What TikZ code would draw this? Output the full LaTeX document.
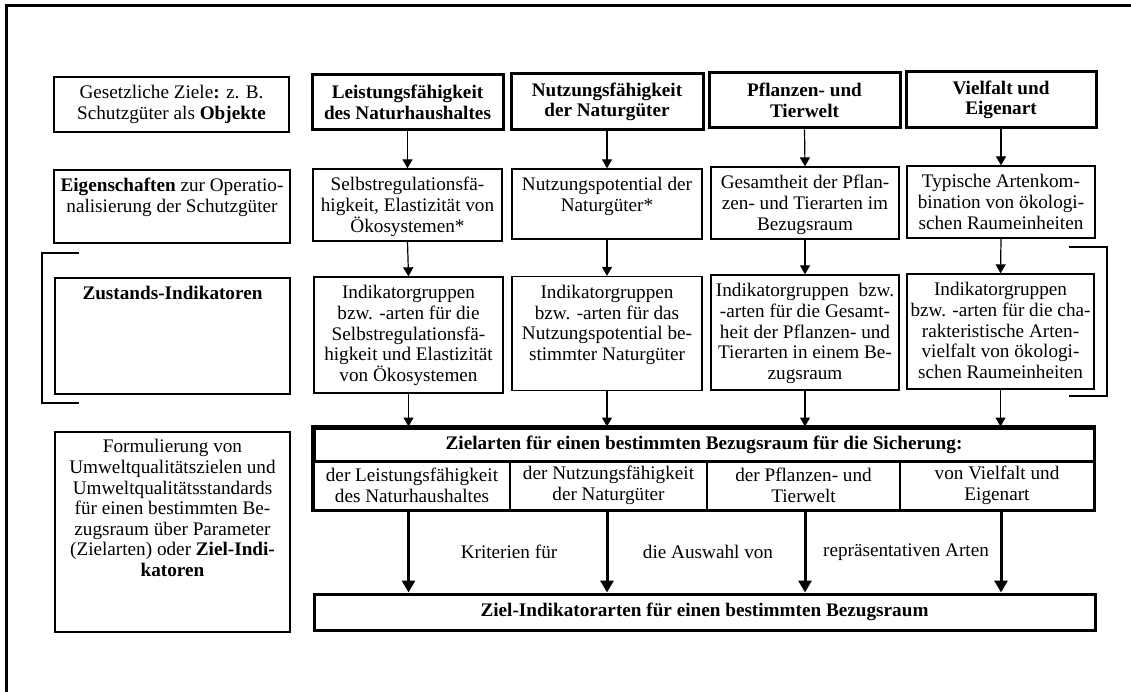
\documentclass[tikz,border=0pt]{standalone}
\usepackage{fontspec}
\setmainfont{Liberation Serif}
\usetikzlibrary{arrows.meta}

\newcommand{\basefont}{\fontsize{19.2}{20.6}\selectfont}
\tikzset{
  thinbox/.style={draw, line width=1.3pt, inner sep=0pt, align=center},
  thickbox/.style={draw, line width=3pt, inner sep=0pt, align=center, font=\basefont\bfseries},
  subbox/.style={draw, line width=1.8pt, minimum height=49pt, inner sep=0pt, align=center},
  down/.style={-{Triangle[length=9pt,width=10pt]}, line width=1.2pt},
  bigdown/.style={-{Triangle[length=12pt,width=13pt]}, line width=3pt},
  bracket/.style={line width=2.8pt},
}
% box with text set from the top
\newcommand{\topcell}[4][7.5pt]{\parbox[c][#3][t]{#2}{\centering\vspace*{#1}\strut#4}}

\begin{document}
\begin{tikzpicture}[x=1pt, y=-1pt, font=\basefont]

    \useasboundingbox (0,0) rectangle (1131,692);
    \draw[line width=3.5pt] (6.5,692) -- (6.5,5.3) -- (1131,5.3);

    % row 1: objects
    \node[thinbox, minimum width=235pt, minimum height=55pt] (goal) at (171.5,104.5) {Gesetzliche Ziele\textbf{:} z. B.\\ Schutzgüter als \textbf{Objekte}};
    \node[thickbox, minimum width=191pt, minimum height=55pt] (lei) at (407.5,102.5) {Leistungsfähigkeit\\ des Naturhaushaltes};
    \node[thickbox, minimum width=192pt, minimum height=56pt] (nut) at (607,102) {Nutzungsfähigkeit\\ der Naturgüter};
    \node[thickbox, minimum width=191pt, minimum height=55pt] (pfl) at (804.5,100.5) {Pflanzen- und\\ Tierwelt};
    \node[thickbox, minimum width=190pt, minimum height=56pt] (vie) at (1001,100) {Vielfalt und\\ Eigenart};

    % row 2: properties
    \node[thinbox] (eig) at (172,206.5) {\topcell{236pt}{73pt}{\textbf{Eigenschaften} zur Operatio-\\ nalisierung der Schutzgüter}};
    \node[thinbox] (sel) at (407.5,205) {\topcell{189pt}{72pt}{Selbstregulationsfä-\\ higkeit, Elastizität von\\ Ökosystemen*}};
    \node[thinbox] (pot) at (607,204) {\topcell{190pt}{70pt}{Nutzungspotential der\\ Naturgüter*}};
    \node[thinbox] (ges) at (805,203) {\topcell{188pt}{72pt}{Gesamtheit der Pflan-\\ zen- und Tierarten im\\ Bezugsraum}};
    \node[thinbox] (typ) at (1001,202) {\topcell{188pt}{72pt}{Typische Artenkom-\\ bination von ökologi-\\ schen Raumeinheiten}};

    % row 3: state indicators
    \node[thinbox] (zus) at (172.5,336) {\topcell{235pt}{116pt}{\textbf{Zustands-Indikatoren}}};
    \node[thinbox] (ind1) at (408.5,335) {\topcell{189pt}{116pt}{Indikatorgruppen\\ bzw. -arten für die\\ Selbstregulationsfä-\\ higkeit und Elastizität\\ von Ökosystemen}};
    \node[thinbox] (ind2) at (607,333.5) {\topcell{190pt}{114pt}{Indikatorgruppen\\ bzw. -arten für das\\ Nutzungspotential be-\\ stimmter Naturgüter}};
    \node[thinbox] (ind3) at (805,332.5) {\topcell{188pt}{115pt}{Indikatorgruppen\ \ bzw.\\ -arten für die Gesamt-\\ heit der Pflanzen- und\\ Tierarten in einem Be-\\ zugsraum}};
    \node[thinbox] (ind4) at (1000.5,331.5) {\topcell{187pt}{115pt}{Indikatorgruppen\\ bzw. -arten für die cha-\\ rakteristische Arten-\\ vielfalt von ökologi-\\ schen Raumeinheiten}};

    \draw[bracket] (79,253) -- (42,253) -- (42,403) -- (79,403);
    \draw[bracket] (1069,247) -- (1107,247) -- (1107,396) -- (1069,396);

    % row 4: target species
    \node[thinbox] (form) at (172.5,532) {\topcell[6.5pt]{235pt}{200pt}{Formulierung von\\ Umweltqualitätszielen und\\ Umweltqualitätsstandards\\ für einen bestimmten Be-\\ zugsraum über Parameter\\ (Zielarten) oder \textbf{Ziel-Indi-}\\ \textbf{katoren}}};
    \node[thickbox, minimum width=780pt, minimum height=33pt] (zhead) at (704,444.5) {Zielarten für einen bestimmten Bezugsraum für die Sicherung:};
    \node[subbox, minimum width=196pt] (zlei) at (412,485.5) {der Leistungsfähigkeit\\ des Naturhaushaltes};
    \node[subbox, minimum width=197pt] (znut) at (608.5,485.5) {der Nutzungsfähigkeit\\ der Naturgüter};
    \node[subbox, minimum width=193pt] (zpfl) at (803.5,485.5) {der Pflanzen- und\\ Tierwelt};
    \node[subbox, minimum width=194pt] (zvie) at (997,485.5) {von Vielfalt und\\ Eigenart};
    \draw[line width=3pt] (zhead.north west) rectangle (zvie.south east);

    \node[thickbox, minimum width=781pt, minimum height=36pt] (ziel) at (704.5,612) {Ziel-Indikatorarten für einen bestimmten Bezugsraum};

    \node (krit) at (509,552) {Kriterien für};
    \node (ausw) at (708,552) {die Auswahl von};
    \node (repr) at (906,552) {repräsentativen Arten};

    % arrows
    \foreach \a/\b in {lei/sel, nut/pot, pfl/ges, vie/typ, sel/ind1, pot/ind2, ges/ind3, typ/ind4}
      \draw[down] (\a.south) -- (\b.north);
    \foreach \a in {ind1, ind2, ind3, ind4}
      \draw[down] (\a.south) -- (\a.south |- zhead.north);
    \foreach \a in {ind1, pot, ges, typ}
      \draw[bigdown] (\a |- zvie.south) -- (\a |- ziel.north);

\end{tikzpicture}
\end{document}
